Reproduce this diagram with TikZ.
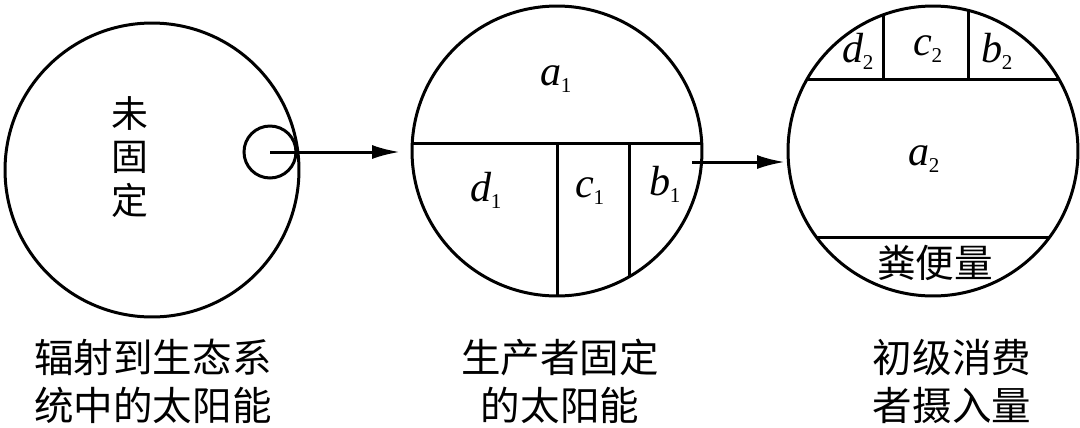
\documentclass[tikz,border=0pt]{standalone}
\usepackage{fontspec}
\setmainfont{Liberation Serif}
\newfontfamily\cjk{Noto Sans CJK SC}
\usetikzlibrary{arrows.meta, positioning}

% letter with a small subscript
\newcommand{\shr}[2]{\textit{#1}\kern-0.5pt\raisebox{-4.5pt}{\fontsize{12}{14}\selectfont #2}}

\begin{document}
\begin{tikzpicture}[x=0.02cm, y=-0.02cm, line width=0.06cm,
    every node/.style={align=center, inner sep=0pt},
    pool/.style={draw, circle, minimum size=5.8cm},
    share/.style={font=\fontsize{24}{28}\selectfont, anchor=base},
    caption/.style={font=\cjk\fontsize{22.5}{27.3}\selectfont},
    flow/.style={-{Latex[length=0.56cm, width=0.28cm]}}]
    \useasboundingbox (0,0) rectangle (1080,427);

    \node (sun) [pool, minimum size=5.88cm] at (152,170) {};
    \node (unfixed) [font=\cjk\fontsize{21}{25}\selectfont] at (130,157) {未\\固\\定};
    \node (spot) [draw, circle, minimum size=1.04cm] at (270,152) {};

    \node (prod) [pool] at (557,151) {};
    \node (cons) [pool] at (933,151) {};

    % producer
    \draw (412,143) -- (702,143);
    \draw (557,143) -- (557,296);
    \draw (629,143) -- (629,277);
    \node (a1) [share] at (556,85) {\shr{a}{1}};
    \node (d1) [share] at (486,201) {\shr{d}{1}};
    \node (c1) [share] at (590,197) {\shr{c}{1}};
    \node (b1) [share] at (665,195) {\shr{b}{1}};

    % primary consumer
    \draw (807,79) -- (1059,79);
    \draw (883,15) -- (883,79);
    \draw (968,10) -- (968,79);
    \draw (816,237) -- (1050,237);
    \node (d2) [share] at (858,62) {\shr{d}{2}};
    \node (c2) [share] at (928,55) {\shr{c}{2}};
    \node (b2) [share] at (997,62) {\shr{b}{2}};
    \node (a2) [share] at (924,165) {\shr{a}{2}};
    \node (feces) [caption, font=\cjk\fontsize{22}{26}\selectfont] at (935,263) {粪便量};

    \coordinate (out) at (692,162);
    \draw[flow, shorten >=0.21cm] (spot.center) -- (spot.center -| prod.west);
    \draw[flow, shorten >=0.03cm] (out) -- (cons.west |- out);

    \node (sunlbl) [caption] at (153,381) {辐射到生态系\\统中的太阳能};
    \node (prodlbl) [caption] at (560,381) {生产者固定\\的太阳能};
    \node (conslbl) [caption] at (952,381) {初级消费\\者摄入量};
\end{tikzpicture}
\end{document}
